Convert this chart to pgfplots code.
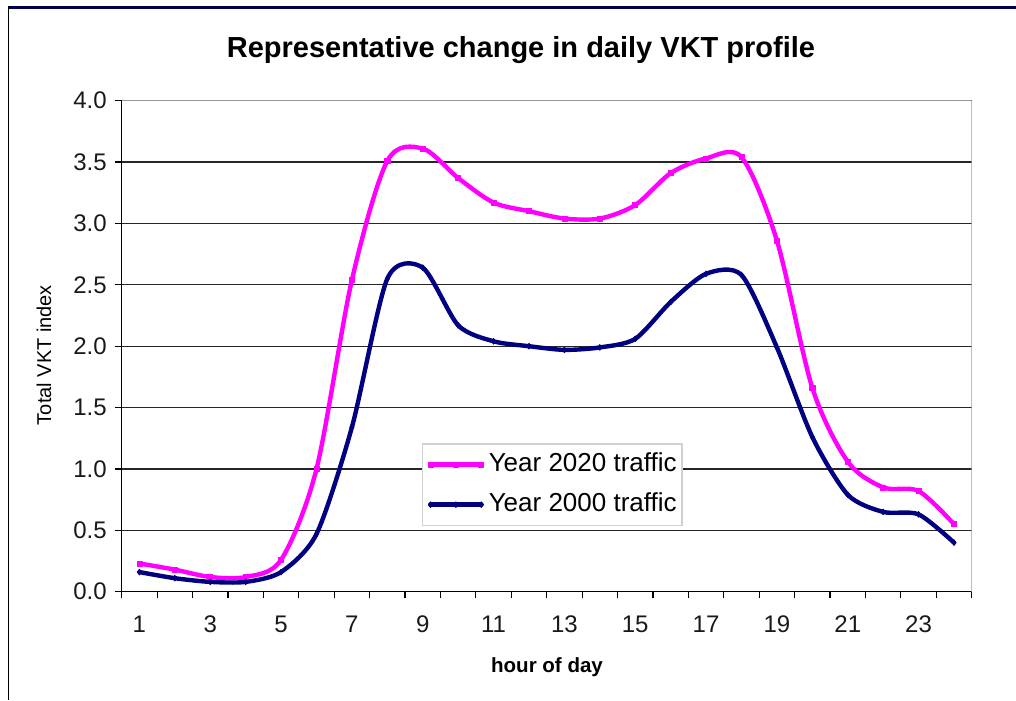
\documentclass[border=0pt]{standalone}
\usepackage{fontspec}
\setmainfont{Liberation Sans}
\usepackage{pgfplots}
\pgfplotsset{compat=1.18}
\definecolor{pinkline}{RGB}{255,0,255}
\definecolor{navyline}{RGB}{0,0,128}
\definecolor{framenavy}{RGB}{0,0,80}

\pgfplotstableread{
hour y2020 y2000
1  0.23 0.16
2  0.18 0.11
3  0.12 0.08
4  0.12 0.08
5  0.26 0.16
6  1.00 0.47
7  2.54 1.34
8  3.51 2.55
9  3.61 2.64
10 3.37 2.17
11 3.17 2.04
12 3.10 2.00
13 3.04 1.97
14 3.04 1.99
15 3.15 2.06
16 3.41 2.36
17 3.53 2.59
18 3.54 2.58
19 2.86 1.99
20 1.66 1.26
21 1.06 0.79
22 0.85 0.65
23 0.82 0.63
24 0.55 0.40
}\vkt

\begin{document}
\begin{tikzpicture}
\path[use as bounding box] (0,0) rectangle (762pt,-525pt);
\fill[framenavy] (6pt,-4.5pt) rectangle (762pt,-7pt);
\draw[black, line width=1pt] (6.5pt,-4.5pt) -- (6.5pt,-525pt);

\node[font=\fontsize{21.75}{26}\selectfont\bfseries, anchor=base] at (390.75pt,-42.75pt) {Representative change in daily VKT profile};
\node[font=\fontsize{15}{18}\selectfont, rotate=90, anchor=center] at (33pt,-266.25pt) {Total VKT index};
\node[font=\fontsize{15.4}{18}\selectfont\bfseries, anchor=base] at (410.25pt,-504pt) {hour of day};

\begin{axis}[
  at={(91.275pt,-443.775pt)}, anchor=south west,
  scale only axis, width=637.5pt, height=368.25pt,
  xmin=0.5, xmax=24.5, ymin=0, ymax=4,
  axis lines*=left,
  axis line style={black, line width=1pt},
  xtick={1,3,...,23},
  ytick={0,0.5,...,4},
  minor xtick={0.5,1.5,...,24.5},
  major x tick style={draw=none},
  tick align=outside,
  major tick length=5.25pt, minor tick length=5pt,
  tick style={black, line width=0.9pt},
  ymajorgrids,
  grid style={black!85, line width=0.9pt},
  /pgf/number format/assume math mode=true,
  yticklabel={\pgfmathprintnumber[fixed, fixed zerofill, precision=1]{\tick}},
  ticklabel style={font=\fontsize{18}{21}\selectfont, text=black!90},
  yticklabel style={xshift=-2.5pt},
  xticklabel style={yshift=-9.5pt},
  legend style={at={(0.3541,0.3008)}, anchor=north west, draw=black!18, fill=white,
    font=\fontsize{19.5}{22}\selectfont, inner xsep=4pt, inner ysep=6.5pt, outer sep=0pt,
    row sep=12pt, column sep=3.75pt, line width=0.8pt,
    nodes={inner sep=0pt, text height=14pt, text depth=4pt}},
  legend cell align=left,
  legend image code/.code={%
    \draw[#1, line width=3.8pt] plot coordinates {(0pt,0pt) (19pt,0pt) (38pt,0pt)};},
  every axis plot/.append style={line cap=round, line join=round},
]
\addplot[pinkline, line width=3.3pt, smooth, tension=0.5, mark=square*, mark size=1.9pt, mark options={line width=0.5pt}] table[x=hour, y=y2020] {\vkt};
\addlegendentry{Year 2020 traffic}
\addplot[navyline, line width=3.3pt, smooth, tension=0.45, mark=diamond*, mark size=2.2pt, mark options={line width=0.5pt}] table[x=hour, y=y2000] {\vkt};
\addlegendentry{Year 2000 traffic}
\draw[black!40, line width=1pt] (rel axis cs:0,1) -- (rel axis cs:1,1) -- (rel axis cs:1,0);
\end{axis}
\end{tikzpicture}
\end{document}
